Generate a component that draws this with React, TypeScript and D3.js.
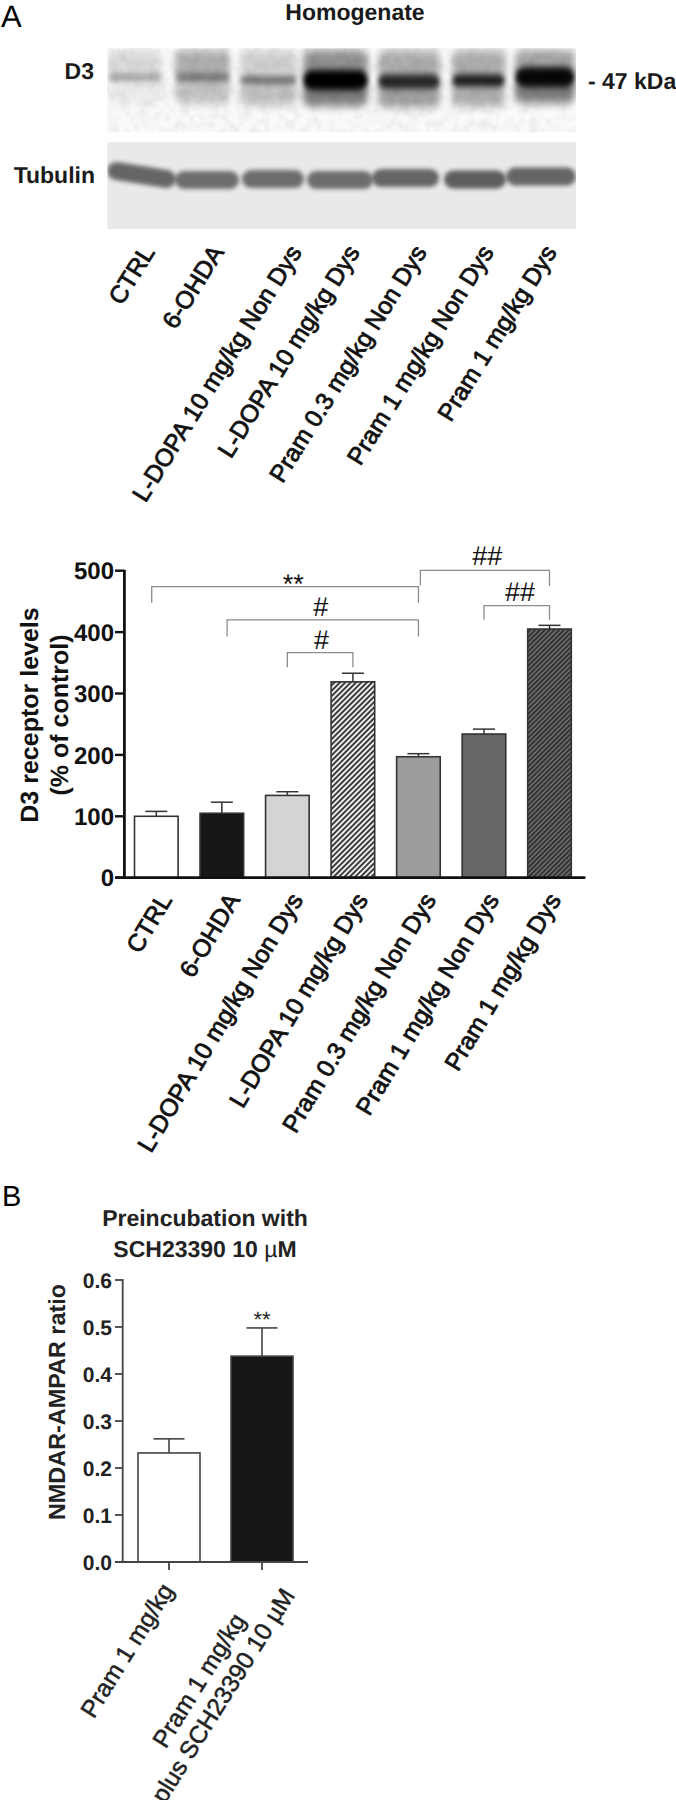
import React from "react";
import * as d3 from "d3";

const LANES = ["CTRL", "6-OHDA", "L-DOPA 10 mg/kg Non Dys", "L-DOPA 10 mg/kg Dys", "Pram 0.3 mg/kg Non Dys", "Pram 1 mg/kg Non Dys", "Pram 1 mg/kg Dys"];
const d3Means = [100, 105, 134, 319, 197, 234, 405];
const d3Tops = [108, 123, 140, 333, 202, 242, 411];
const d3Ticks = [0, 100, 200, 300, 400, 500];
const d3Fills = ["#ffffff", "#161616", "#d4d4d4", "url(#hatchLight)", "#9c9c9c", "#666666", "url(#hatchDark)"];
const bracketFrom = [-0.07, 1.08, 2, 4.03, 5];
const bracketTo = [4, 4, 3, 6, 6];
const bracketLevel = [474, 420, 366.5, 500.5, 443];
const bracketDropL = [448, 393, 342.6, 476, 420];
const bracketDropR = [448, 393, 342.6, 475, 420];
const bracketText = ["**", "#", "#", "##", "##"];
const bracketTextLevel = [463.7, 426, 373, 509.3, 451];
const bracketTextPos = [2.09, 2.51, 2.52, 5.05, 5.55];

const laneLeft = [108, 175, 240, 303, 378, 452, 515];
const laneRight = [162, 230, 297, 368, 440, 505, 575];
const bandCenter = [77.5, 77.5, 80, 80, 81.5, 80.5, 77];
const bandThick = [6, 7, 7, 20, 14, 12, 20];
const bandDark = [0.34, 0.42, 0.5, 1, 0.78, 0.84, 0.95];
const hazeTop = [0.12, 0.3, 0.16, 0.42, 0.3, 0.3, 0.34];
const hazeBottom = [0.06, 0.22, 0.22, 0.5, 0.36, 0.3, 0.5];

const tubeLeft = [107, 175, 242, 307, 372, 444, 506];
const tubeRight = [176, 239, 304, 373, 439, 506, 576];
const tubeCenter = [175, 180, 179, 180, 178, 179.5, 176.5];
const tubeTilt = [9, 0, 0, 0, 0, 0, 0];
const tubeDark = [0.64, 0.6, 0.6, 0.6, 0.64, 0.68, 0.64];

const bCats = [["Pram 1 mg/kg"], ["Pram 1 mg/kg", "plus SCH23390 10 \u00b5M"]];
const bMeans = [0.232, 0.438];
const bTops = [0.262, 0.498];
const bTicks = [0, 0.1, 0.2, 0.3, 0.4, 0.5, 0.6];
const bFills = ["#ffffff", "#161616"];

const topEnds = [141, 210, 288, 346, 413, 480, 543];
const botEnds = [158, 226, 289, 354, 422, 485, 547];

const F = "'Liberation Sans', Arial, sans-serif";

export default function App() {
  const xA = d3.scalePoint<number>().domain(d3.range(7)).range([156.3, 549.5]);
  const barW = 43.6;
  const yA = d3.scaleLinear().domain([0, 500]).range([877.7, 570.7]);
  const xB = d3.scalePoint<number>().domain([0, 1]).range([169, 262]);
  const yB = d3.scaleLinear().domain([0, 0.6]).range([1562, 1280]);
  const xAf = d3.scaleLinear().domain([0, 6]).range([156.3, 549.5]);

  return (
    <svg width={676} height={1800} style={{ position: "absolute", left: 0, top: 0, background: "#fff", textRendering: "geometricPrecision" }} fontFamily={F}>
      <defs>
        <pattern id="hatchLight" width="3.8" height="3.8" patternUnits="userSpaceOnUse" patternTransform="rotate(45)">
          <rect width="3.8" height="3.8" fill="#ededed" />
          <rect width="1.9" height="3.8" fill="#3a3a3a" />
        </pattern>
        <pattern id="hatchDark" width="3.4" height="3.4" patternUnits="userSpaceOnUse" patternTransform="rotate(45)">
          <rect width="3.4" height="3.4" fill="#7c7c7c" />
          <rect width="2.2" height="3.4" fill="#333333" />
        </pattern>
        <filter id="blurB" x="-30%" y="-200%" width="160%" height="500%"><feGaussianBlur stdDeviation="2.5 3" /></filter>
        <filter id="blurH" x="-30%" y="-100%" width="160%" height="300%"><feGaussianBlur stdDeviation="3.5 5" /></filter>
        <filter id="blurT" x="-20%" y="-100%" width="140%" height="300%"><feGaussianBlur stdDeviation="2.2 2" /></filter>
        <filter id="noise" x="0" y="0" width="100%" height="100%">
          <feTurbulence type="fractalNoise" baseFrequency="0.1" numOctaves="2" seed="4" />
          <feColorMatrix type="matrix" values="0 0 0 0 0  0 0 0 0 0  0 0 0 0 0  0.9 0 0 0 -0.33" />
        </filter>
        <clipPath id="c1"><rect x={107.3} y={48.3} width={468.7} height={84} /></clipPath>
        <clipPath id="c2"><rect x={107.3} y={142.3} width={468.7} height={86.7} /></clipPath>
      </defs>

      <text x={1} y={27} fontSize={31}>A</text>
      <text x={355} y={19.5} fontSize={23} fontWeight="bold" textAnchor="middle" fill="#1a1a1a">Homogenate</text>
      <text x={94} y={79} fontSize={23} fontWeight="bold" textAnchor="end" fill="#1a1a1a">D3</text>
      <text x={95} y={183} fontSize={23} fontWeight="bold" textAnchor="end" fill="#1a1a1a">Tubulin</text>
      <text x={588} y={89.3} fontSize={23} fontWeight="bold" fill="#1a1a1a">- 47 kDa</text>

      <g clipPath="url(#c1)">
        <rect x={107} y={48} width={469} height={85} fill="#fafafa" />
        {LANES.map((_, i) => (
          <g key={i}>
            <rect x={laneLeft[i]} y={50} width={laneRight[i] - laneLeft[i]} height={bandCenter[i] - 50} rx={8} fill="#000" opacity={hazeTop[i]} filter="url(#blurH)" />
            <rect x={laneLeft[i]} y={bandCenter[i]} width={laneRight[i] - laneLeft[i]} height={26} rx={8} fill="#000" opacity={hazeBottom[i]} filter="url(#blurH)" />
            <rect x={laneLeft[i]} y={bandCenter[i] - bandThick[i] / 2} width={laneRight[i] - laneLeft[i]} height={bandThick[i]} rx={bandThick[i] / 2} fill="#000" opacity={bandDark[i]} filter="url(#blurB)" />
          </g>
        ))}
        <rect x={107} y={48} width={469} height={85} fill="#000" filter="url(#noise)" opacity={0.14} />
      </g>
      <g clipPath="url(#c2)">
        <rect x={107} y={142} width={469} height={87} fill="#e9e9e9" />
        {LANES.map((_, i) => {
          const mid = (tubeLeft[i] + tubeRight[i]) / 2;
          return (
            <rect key={i} x={tubeLeft[i]} y={tubeCenter[i] - 9} width={tubeRight[i] - tubeLeft[i]} height={18} rx={9} fill="#1c1c1c" opacity={tubeDark[i]} filter="url(#blurT)" transform={`rotate(${tubeTilt[i]},${mid},${tubeCenter[i]})`} />
          );
        })}
      </g>

      {LANES.map((c, i) => (
        <text key={i} transform={`translate(${topEnds[i]},243) rotate(-58)`} fontSize={24.5} stroke="#111" strokeWidth={0.8} textAnchor="end" dy="0.7em" fill="#111">{c}</text>
      ))}

      {/* Panel A bars */}
      {d3Means.map((v, i) => (
        <g key={i}>
          <line x1={xA(i)} x2={xA(i)} y1={yA(d3Tops[i])} y2={yA(v)} stroke="#333" strokeWidth={1.5} />
          <line x1={xA(i)! - 11} x2={xA(i)! + 11} y1={yA(d3Tops[i])} y2={yA(d3Tops[i])} stroke="#333" strokeWidth={1.5} />
          <rect x={xA(i)! - barW / 2} y={yA(v)} width={barW} height={yA(0) - yA(v)} fill={d3Fills[i]} stroke="#333" strokeWidth={1.6} />
        </g>
      ))}
      <line x1={124.4} x2={124.4} y1={yA(500) - 1} y2={yA(0) + 1} stroke="#111" strokeWidth={2.8} />
      <line x1={115} x2={585.5} y1={yA(0)} y2={yA(0)} stroke="#111" strokeWidth={2.8} />
      {d3Ticks.map((t) => (
        <g key={t}>
          <line x1={115} x2={124} y1={yA(t)} y2={yA(t)} stroke="#111" strokeWidth={2.4} />
          <text x={114} y={yA(t)} dy="0.36em" fontSize={24} fontWeight="bold" textAnchor="end" fill="#111">{t}</text>
        </g>
      ))}
      <text transform="translate(38,715) rotate(-90)" fontSize={25} fontWeight="bold" textAnchor="middle" fill="#111">D3 receptor levels</text>
      <text transform="translate(68,715) rotate(-90)" fontSize={25} fontWeight="bold" textAnchor="middle" fill="#111">(% of control)</text>

      {bracketText.map((s, i) => {
        const x1 = xAf(bracketFrom[i]), x2 = xAf(bracketTo[i]);
        const p = d3.path();
        p.moveTo(x1, yA(bracketDropL[i]));
        p.lineTo(x1, yA(bracketLevel[i]));
        p.lineTo(x2, yA(bracketLevel[i]));
        p.lineTo(x2, yA(bracketDropR[i]));
        return (
          <g key={i}>
            <path d={p.toString()} fill="none" stroke="#8c8c8c" strokeWidth={1.3} />
            <text x={xAf(bracketTextPos[i])} y={yA(bracketTextLevel[i])} fontSize={27} textAnchor="middle" fill="#111">{s}</text>
          </g>
        );
      })}

      {LANES.map((c, i) => (
        <text key={i} transform={`translate(${botEnds[i]},891) rotate(-59)`} fontSize={24.5} stroke="#111" strokeWidth={0.8} textAnchor="end" dy="0.7em" fill="#111">{c}</text>
      ))}

      {/* Panel B */}
      <text x={2} y={1206} fontSize={29}>B</text>
      <text x={205} y={1226} fontSize={23} fontWeight="bold" textAnchor="middle" fill="#222">Preincubation with</text>
      <text x={205} y={1257} fontSize={23} fontWeight="bold" textAnchor="middle" fill="#222">SCH23390 10 <tspan fontWeight="normal">µ</tspan>M</text>
      {bMeans.map((v, i) => (
        <g key={i}>
          <line x1={xB(i)} x2={xB(i)} y1={yB(bTops[i])} y2={yB(v)} stroke="#444" strokeWidth={1.6} />
          <line x1={xB(i)! - 15.5} x2={xB(i)! + 15.5} y1={yB(bTops[i])} y2={yB(bTops[i])} stroke="#444" strokeWidth={1.6} />
          <rect x={xB(i)! - 31} y={yB(v)} width={62} height={yB(0) - yB(v)} fill={bFills[i]} stroke="#444" strokeWidth={1.6} />
          <line x1={xB(i)} x2={xB(i)} y1={yB(0)} y2={yB(0) + 8} stroke="#444" strokeWidth={1.8} />
        </g>
      ))}
      <text x={xB(1)} y={yB(0.498)} dy="-1" fontSize={22} textAnchor="middle" fill="#222">**</text>
      <line x1={122.7} x2={122.7} y1={yB(0.6) - 1} y2={yB(0) + 1} stroke="#444" strokeWidth={1.8} />
      <line x1={115} x2={308} y1={yB(0)} y2={yB(0)} stroke="#444" strokeWidth={1.8} />
      {bTicks.map((t) => (
        <g key={t}>
          <line x1={115} x2={122} y1={yB(t)} y2={yB(t)} stroke="#444" strokeWidth={1.8} />
          <text x={112} y={yB(t)} dy="0.36em" fontSize={21} fontWeight="bold" textAnchor="end" fill="#222">{t.toFixed(1)}</text>
        </g>
      ))}
      <text transform="translate(65,1402) rotate(-90)" fontSize={23.4} fontWeight="bold" textAnchor="middle" fill="#222">NMDAR-AMPAR ratio</text>
      {bCats.map((lines, i) =>
        lines.map((l, j) => (
          <text key={j} transform={`translate(${i === 0 ? 160 : j === 0 ? 232 : 281},${i === 0 ? 1581 : j === 0 ? 1611 : 1586}) rotate(-58)`} fontSize={24.5} stroke="#222" strokeWidth={0.5} textAnchor="end" dy="0.7em" fill="#222">{l}</text>
        ))
      )}
    </svg>
  );
}
